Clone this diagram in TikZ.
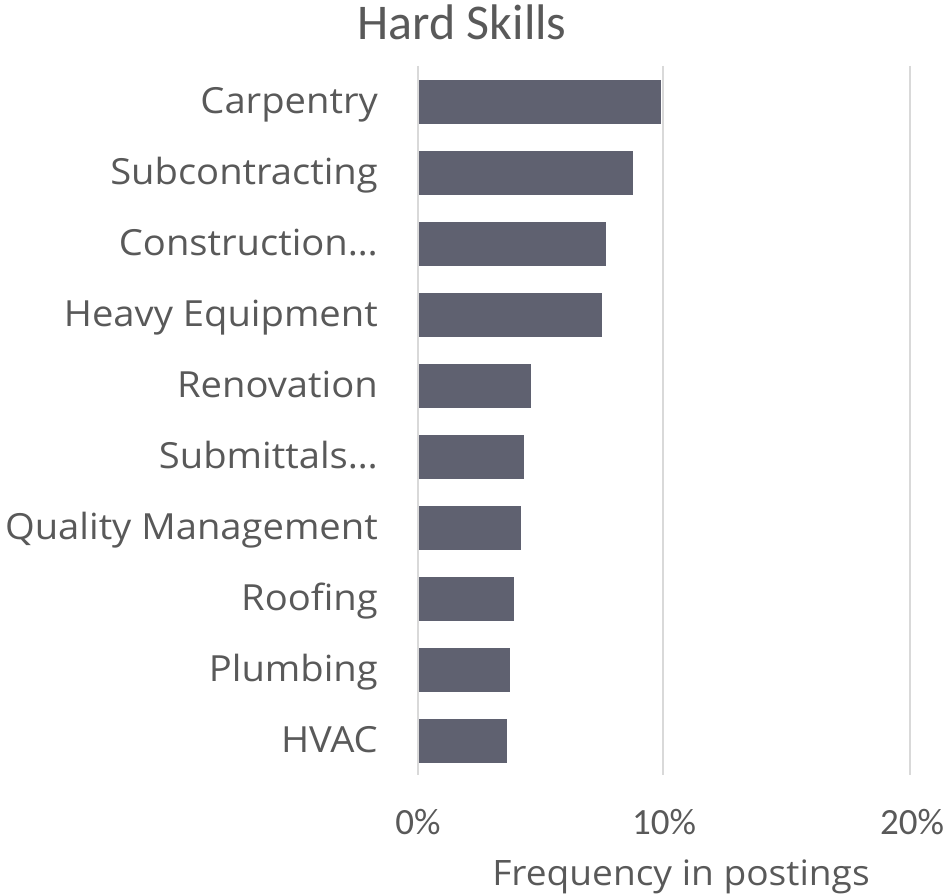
\documentclass[tikz,border=0pt]{standalone}
\usepackage{fontspec}
\setmainfont{Open Sans}[FakeStretch=1.06]
\newfontfamily\calib{Carlito}
\definecolor{barc}{HTML}{5F6170}
\definecolor{txtc}{HTML}{595959}
\definecolor{gridc}{HTML}{D9D9D9}
\begin{document}
\begin{tikzpicture}[x=1pt,y=1pt,
  lbl/.style={anchor=base east,text=txtc,font=\fontsize{36}{40}\selectfont,inner sep=0pt},
  tick/.style={anchor=base,text=txtc,font=\calib\fontsize{37}{40}\selectfont,inner sep=0pt},
  barr/.style={fill=barc,draw=none},
  gridl/.style={draw=gridc,line width=2pt}]
\useasboundingbox (0,0) rectangle (947,896);
% gridlines
\draw[gridl] (418,830) -- (418,121);
\draw[gridl] (663,830) -- (663,121);
\draw[gridl] (910,830) -- (910,121);
\foreach \i/\name/\len in {0/Carpentry/242, 1/Subcontracting/214, 2/Construction\dots/187, 3/Heavy Equipment/183, 4/Renovation/112, 5/Submittals\dots/105, 6/Quality Management/102, 7/Roofing/95, 8/Plumbing/91, 9/HVAC/88}{
  \pgfmathsetmacro{\yc}{896-102-71*\i}
  \fill[barr] (419,\yc-22) rectangle (419+\len,\yc+22);
  \node[lbl] (l\i) at (378,\yc-12) {\name};
}
\node[tick] (t0) at (418,61) {0\%};
\node[tick] (t1) at (664,61) {10\%};
\node[tick] (t2) at (912,61) {20\%};
\node[lbl,anchor=base,font=\fontsize{35}{40}\selectfont] (xt) at (681,10) {Frequency in postings};
\node[tick,anchor=center,font=\calib\fontsize{50}{54}\selectfont] (tt) at (462,874) {Hard Skills};
\end{tikzpicture}
\end{document}
